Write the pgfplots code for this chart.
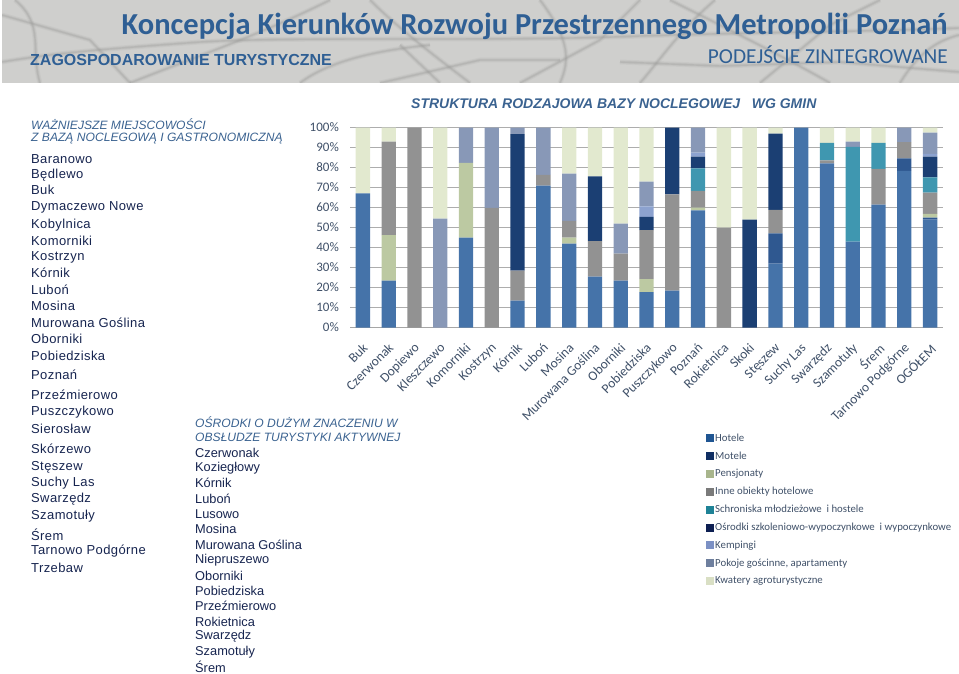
\documentclass[border=0pt]{standalone}
\usepackage{pgfplots}
\usepackage{pgfplotstable}
\pgfplotsset{compat=1.18}
\usepackage{fontspec}
\setmainfont{Liberation Sans}
\newfontfamily\calib{Carlito}
\definecolor{cHot}{HTML}{4573A9}
\definecolor{cMot}{HTML}{2F5890}
\definecolor{cPen}{HTML}{BCC9A2}
\definecolor{cInn}{HTML}{929292}
\definecolor{cSch}{HTML}{3F97B0}
\definecolor{cOsr}{HTML}{1B3F73}
\definecolor{cKem}{HTML}{8CA2CF}
\definecolor{cPok}{HTML}{8898B7}
\definecolor{cKwa}{HTML}{E2E9CF}
\definecolor{lHot}{HTML}{1F5592}
\definecolor{lMot}{HTML}{0F2E63}
\definecolor{lPen}{HTML}{A8B58C}
\definecolor{lInn}{HTML}{7A7A7A}
\definecolor{lSch}{HTML}{1E8296}
\definecolor{lOsr}{HTML}{0D1F52}
\definecolor{lKem}{HTML}{7B90C4}
\definecolor{lPok}{HTML}{6E7F9E}
\definecolor{lKwa}{HTML}{D9DFC4}
\definecolor{hblue}{HTML}{2F5F94}
\definecolor{hgray}{HTML}{3A6290}
\definecolor{listc}{HTML}{16244F}
\definecolor{tickc}{HTML}{3F5068}
\definecolor{band}{HTML}{CFCFCD}
\definecolor{road}{HTML}{9C9C9A}
\pgfplotstableread{
x Hot Mot Pen Inn Sch Osr Kem Pok Kwa
0 67.1 0 0 0 0 0 0 0 32.9
1 23.4 0 22.8 46.8 0 0 0 0 7
2 0 0 0 100 0 0 0 0 0
3 0 0 0 0 0 0 0 54.4 45.6
4 44.9 0 37.4 0 0 0 0 17.7 0
5 0 0 0 59.8 0 0 0 40.2 0
6 13.5 0 0 14.9 0 68.3 0 3.3 0
7 71 0 0 5.3 0 0 0 23.7 0
8 42 0 2.9 8.4 0 0 0 23.7 23
9 25.5 0 0 17.7 0 32.4 0 0 24.4
10 23.4 0 0 13.5 0 0 0 15 48.1
11 17.7 0 6.5 24.5 0 6.6 5.3 12.4 27
12 18.4 0 0 48.2 0 33.4 0 0 0
13 58.6 0 1.4 8.3 11.3 5.9 2 12.5 0
14 0 0 0 50 0 0 0 0 50
15 0 0 0 0 0 53.9 0 0 46.1
16 31.9 15.2 0 11.7 0 38.2 0 0 3
17 100 0 0 0 0 0 0 0 0
18 82.1 0 0 1.5 8.7 0 0 0 7.7
19 42.9 0 0 0 47.4 0 0 2.7 7
20 61.4 0 0 17.9 13 0 0 0 7.7
21 78.3 6.3 0 8.1 0 0 0 7.3 0
22 53.9 1 1.9 10.6 7.7 10.4 1.3 10.7 2.5
}\datatab
\pgfplotsset{sq/.style={legend image code/.code={\fill[##1,draw=none] (0pt,-4pt) rectangle (8pt,4pt);}}}
\newcommand{\lst}[3]{\node[anchor=west,inner sep=0pt,text=listc,font=\fontsize{13}{13}\selectfont\addfontfeatures{LetterSpace=3}] at (#1pt,-#2pt) {#3};}
\newcommand{\lstb}[3]{\node[anchor=west,inner sep=0pt,text=listc,font=\fontsize{12.8}{13}\selectfont] at (#1pt,-#2pt) {#3};}
\newcommand{\hd}[3]{\node[anchor=west,inner sep=0pt,text=hgray,font=\fontsize{12.1}{13}\selectfont\itshape] at (#1pt,-#2pt) {#3};}
\begin{document}
\begin{tikzpicture}[x=1pt,y=1pt]
\path[use as bounding box] (0,0) rectangle (959,-674);
% header band
\begin{scope}
\clip (2,0) rectangle (959,-83);
\fill[band] (2,0) rectangle (959,-83);
\foreach \w/\o in {5/.12,2.8/.18,1.4/.25}{
\begin{scope}[draw=road,line width=\w pt,opacity=\o]
\draw (2,-62) .. controls (60,-52) and (120,-48) .. (200,-42) .. controls (300,-36) and (500,-42) .. (640,-36) .. controls (760,-32) and (860,-32) .. (959,-28);
\draw (15,0) .. controls (45,-25) and (30,-50) .. (40,-83);
\draw (130,-83) .. controls (200,-55) and (260,-35) .. (330,0);
\draw (370,0) .. controls (400,-30) and (440,-60) .. (470,-83);
\draw (520,-83) -- (600,-40) -- (640,0);
\draw (640,-83) .. controls (660,-60) and (680,-30) .. (715,0);
\draw (540,0) .. controls (570,-40) and (570,-60) .. (560,-83);
\draw (670,0) .. controls (730,-30) and (790,-60) .. (830,-83);
\draw (760,-83) -- (830,-25) -- (880,0);
\draw (900,-83) .. controls (920,-50) and (940,-40) .. (959,-35);
\draw (2,-15) -- (90,-40) -- (130,-83);
\draw (300,-83) .. controls (330,-60) and (380,-50) .. (430,-45);
\draw (380,-83) -- (480,-60) -- (560,-60);
\draw (400,-45) -- (440,-83);
\draw (620,-62) -- (720,-66) -- (840,-62) -- (959,-72);
\end{scope}}
\end{scope}
\node[anchor=east,inner sep=0pt,text=hblue,font=\calib\bfseries\fontsize{30.5}{31}\selectfont] at (948,-26) {Koncepcja Kierunków Rozwoju Przestrzennego Metropolii Poznań};
\node[anchor=east,inner sep=0pt,text=hblue,font=\calib\fontsize{21.3}{22}\selectfont] at (948,-55) {PODEJŚCIE ZINTEGROWANE};
\node[anchor=west,inner sep=0pt,text=hblue,font=\bfseries\fontsize{16}{16}\selectfont] at (30,-60) {ZAGOSPODAROWANIE TURYSTYCZNE};
\node[anchor=west,inner sep=0pt,text=hgray,font=\bfseries\itshape\fontsize{14}{14}\selectfont] at (411,-104) {STRUKTURA RODZAJOWA BAZY NOCLEGOWEJ\ \ \ WG GMIN};
% lists
\hd{31}{124}{WAŻNIEJSZE MIEJSCOWOŚCI}
\hd{31}{139}{Z BAZĄ NOCLEGOWĄ I GASTRONOMICZNĄ}
\foreach \y/\t in {159/Baranowo,175/Będlewo,190/Buk,207/Dymaczewo Nowe,225/Kobylnica,241/Komorniki,257/Kostrzyn,273/Kórnik,290/Luboń,306/Mosina,323/Murowana Goślina,339/Oborniki,356/Pobiedziska,375/Poznań,395/Przeźmierowo,412/Puszczykowo,429/Sierosław,449/Skórzewo,467/Stęszew,483/Suchy Las,499/Swarzędz,516/Szamotuły,535/Śrem,551/Tarnowo Podgórne,568/Trzebaw}{\lst{31}{\y}{\t}}
\hd{195}{422}{OŚRODKI O DUŻYM ZNACZENIU W}
\hd{195}{437}{OBSŁUDZE TURYSTYKI AKTYWNEJ}
\foreach \y/\t in {453/Czerwonak,468/Koziegłowy,483/Kórnik,499/Luboń,514/Lusowo,529/Mosina,545/Murowana Goślina,560/Niepruszewo,576/Oborniki,591/Pobiedziska,606/Przeźmierowo,622/Rokietnica,636/Swarzędz,652/Szamotuły,667/Śrem}{\lstb{195}{\y}{\t}}
\begin{axis}[
  at={(350pt,-327.5pt)},anchor=south west,
  scale only axis,width=593pt,height=200pt,
  ybar stacked,bar width=14.3pt,
  xmin=-0.5,xmax=22.5,ymin=0,ymax=100,
  axis x line*=bottom,axis y line*=left,
  x axis line style={draw=black!35,line width=.8pt,-},
  y axis line style={draw=none,-},
  ytick={0,10,...,100},
  yticklabel={\pgfmathprintnumber{\tick}\%},
  /pgf/number format/assume math mode=true,
  yticklabel style={font=\calib\fontsize{13}{13}\selectfont,text=tickc,xshift=-10pt,inner sep=1pt},
  xtick=data,
  xticklabels={Buk,Czerwonak,Dopiewo,Kleszczewo,Komorniki,Kostrzyn,Kórnik,Luboń,Mosina,Murowana Goślina,Oborniki,Pobiedziska,Puszczykowo,Poznań,Rokietnica,Skoki,Stęszew,Suchy Las,Swarzędz,Szamotuły,Śrem,Tarnowo Podgórne,OGÓŁEM},
  xticklabel style={font=\calib\fontsize{13.5}{14}\selectfont,text=tickc,rotate=45,anchor=north east,inner sep=1pt,xshift=-10pt,yshift=-8.4pt},
  major tick length=0pt,
  ymajorgrids,grid style={draw=black!32,line width=1pt},
  clip=false,
  legend style={at={(0,0)},anchor=north west,xshift=356pt,yshift=-105pt,draw=none,fill=none,
    font=\calib\fontsize{10.8}{11}\selectfont,text=tickc,row sep=6.9pt,inner sep=0pt,
    nodes={inner sep=1pt}},
  legend cell align=left,
]
\addplot[fill=cHot,draw=none,forget plot] table[x=x,y=Hot]{\datatab};
\addplot[fill=cMot,draw=none,forget plot] table[x=x,y=Mot]{\datatab};
\addplot[fill=cPen,draw=none,forget plot] table[x=x,y=Pen]{\datatab};
\addplot[fill=cInn,draw=none,forget plot] table[x=x,y=Inn]{\datatab};
\addplot[fill=cSch,draw=none,forget plot] table[x=x,y=Sch]{\datatab};
\addplot[fill=cOsr,draw=none,forget plot] table[x=x,y=Osr]{\datatab};
\addplot[fill=cKem,draw=none,forget plot] table[x=x,y=Kem]{\datatab};
\addplot[fill=cPok,draw=none,forget plot] table[x=x,y=Pok]{\datatab};
\addplot[fill=cKwa,draw=none,forget plot] table[x=x,y=Kwa]{\datatab};
\addlegendimage{sq,fill=lHot}\addlegendentry{Hotele}
\addlegendimage{sq,fill=lMot}\addlegendentry{Motele}
\addlegendimage{sq,fill=lPen}\addlegendentry{Pensjonaty}
\addlegendimage{sq,fill=lInn}\addlegendentry{Inne obiekty hotelowe}
\addlegendimage{sq,fill=lSch}\addlegendentry{Schroniska młodzieżowe\ \ i hostele}
\addlegendimage{sq,fill=lOsr}\addlegendentry{Ośrodki szkoleniowo-wypoczynkowe\ \ i wypoczynkowe}
\addlegendimage{sq,fill=lKem}\addlegendentry{Kempingi}
\addlegendimage{sq,fill=lPok}\addlegendentry{Pokoje gościnne, apartamenty}
\addlegendimage{sq,fill=lKwa}\addlegendentry{Kwatery agroturystyczne}
\end{axis}
\end{tikzpicture}
\end{document}
